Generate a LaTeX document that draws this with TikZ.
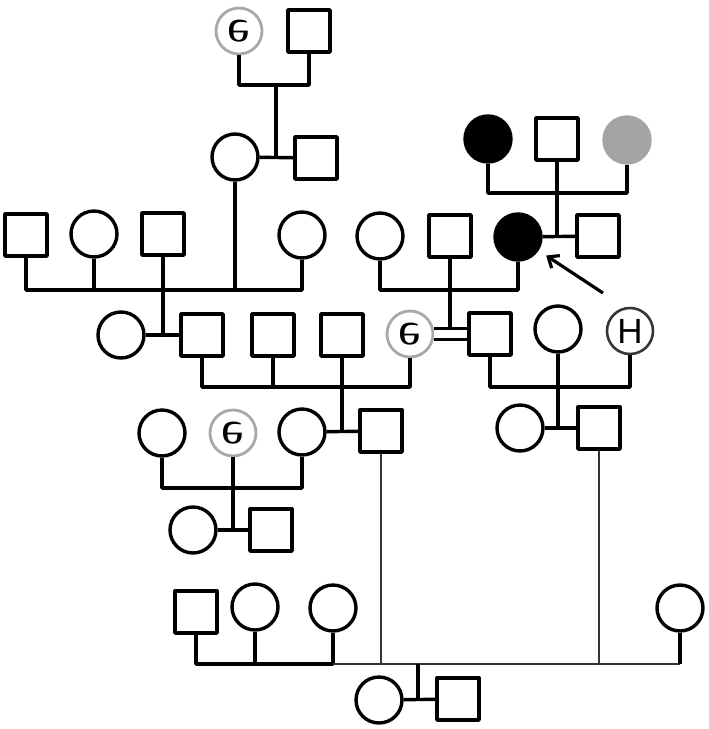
\documentclass[tikz,border=0pt]{standalone}
\usepackage{fontspec}
\usepackage{graphicx}
\usepackage{xcolor}
\newfontfamily\gfont{Liberation Serif}
\newfontfamily\hfont{Liberation Sans}
\usetikzlibrary{arrows.meta, calc}
\definecolor{tested}{HTML}{A8A8A8}
\definecolor{carrier}{HTML}{A4A4A4}
\definecolor{hline}{HTML}{363636}
\definecolor{longline}{HTML}{333333}
\newcommand{\gmark}{{\gfont\fontsize{46}{46}\selectfont\scalebox{1.1}[-1]{e}}}
\newcommand{\hmark}{{\hfont\fontsize{35}{35}\selectfont H}}

\begin{document}
\begin{tikzpicture}[x=1pt, y=-1pt, line width=3.4pt, line join=round,
    female/.style={circle, draw, minimum size=46pt, inner sep=0pt},
    male/.style={rectangle, draw, minimum size=42pt, inner sep=0pt},
    affected/.style={fill=black},
    carrier/.style={draw=carrier, fill=carrier},
    gtest/.style={draw=tested, line width=2.8pt},
    htest/.style={draw=hline, line width=2.6pt},
    longline/.style={draw=longline, line width=2.4pt},
    proband/.style={-{Straight Barb[length=9pt, width=15pt]}, line width=3.2pt, shorten >=9pt}]

    \useasboundingbox (0,0) rectangle (709,729);

    % generation I
    \node [female, gtest] (gI1) at (239,31) {\gmark};
    \node [male] (gI2) at (309,31) {};
    \node [female] (gII1) at (235,157) {};
    \node [male] (gII2) at (316,158) {};

    % row of grandparents
    \node [male] (a1) at (26,235) {};
    \node [female] (a2) at (94,234) {};
    \node [male] (a3) at (163,234) {};
    \node [female] (a4) at (302,235) {};
    \node [female] (b1) at (380,236) {};
    \node [male] (b2) at (450,236) {};
    \node [female, affected] (b3) at (518,237) {};
    \node [male] (b4) at (598,236) {};

    % top right family
    \node [female, affected] (c1) at (488,139) {};
    \node [male] (c2) at (557,139) {};
    \node [female, carrier] (c3) at (627,140) {};

    % parents row
    \node [female] (d1) at (121,335) {};
    \node [male] (d2) at (202,335) {};
    \node [male] (d3) at (273,335) {};
    \node [male] (d4) at (342,335) {};
    \node [female, gtest] (d5) at (410,334) {\gmark};
    \node [male] (d6) at (490,334) {};
    \node [female] (d7) at (558,329) {};
    \node [female, htest] (d8) at (630,331) {\hmark};

    \node [female] (e1) at (162,433) {};
    \node [female, gtest] (e2) at (233,433) {\gmark};
    \node [female] (e3) at (302,432) {};
    \node [male] (e4) at (381,431) {};
    \node [female] (e5) at (520,428) {};
    \node [male] (e6) at (599,428) {};

    \node [female] (f1) at (193,530) {};
    \node [male] (f2) at (271,530) {};

    % bottom sibship
    \node [male] (g1) at (196,612) {};
    \node [female] (g2) at (255,607) {};
    \node [female] (g3) at (333,608) {};
    \node [female] (g4) at (680,608) {};
    \node [female] (h1) at (379,700) {};
    \node [male] (h2) at (458,699) {};

    \coordinate (sI) at (276,85);
    \coordinate (sA) at (235,290);
    \coordinate (sB) at (450,290);
    \coordinate (sC) at (557,193);
    \coordinate (sD) at (342,387);
    \coordinate (sE) at (558,387);
    \coordinate (sF) at (233,488);
    \coordinate (sG) at (418,664);
    \coordinate (arr) at (603,293);

    % lines of descent
    \draw (gI1) |- (sI) -| (gI2);
    \draw (sI) -- (sI |- gII2);
    \draw (gII1) -- (gII2);

    \draw (a1) |- (sA) -| (a4);
    \draw (a2) -- (a2 |- sA);
    \draw (gII1) -- (sA);
    \draw (a3) -- (a3 |- d2);
    \draw (d1) -- (d2);

    \draw (c1) |- (sC) -| (c3);
    \draw (c2) -- (c2 |- b4);
    \draw (b3) -- (b4);
    \draw [proband] (arr) -- (b3);

    \draw (b1) |- (sB) -| (b3);
    \draw (b2) -- ($(b2 |- d5)+(0,-5.5)$);
    \draw [double, double distance=8pt, line width=3pt] (d5) -- (d6);

    \draw (d2) |- (sD) -| (d5);
    \draw (d3) -- (d3 |- sD);
    \draw (d4) -- (d4 |- e4);
    \draw (e3) -- (e4);

    \draw (d6) |- (sE) -| (d8);
    \draw (d7) -- (d7 |- e6);
    \draw (e5) -- (e6);

    \draw (e1) |- (sF) -| (e3);
    \draw (e2) -- (e2 |- f2);
    \draw (f1) -- (f2);

    \draw (g1) |- (g3 |- sG) -- (g3);
    \draw (g2) -- (g2 |- sG);
    \draw [longline] (g3 |- sG) -- (g4 |- sG);
    \draw (g4) -- (g4 |- sG);
    \draw [longline] (e4) -- (e4 |- sG);
    \draw [longline] (e6) -- (e6 |- sG);
    \draw (sG) -- (sG |- h2);
    \draw (h1) -- (h2);
\end{tikzpicture}
\end{document}
